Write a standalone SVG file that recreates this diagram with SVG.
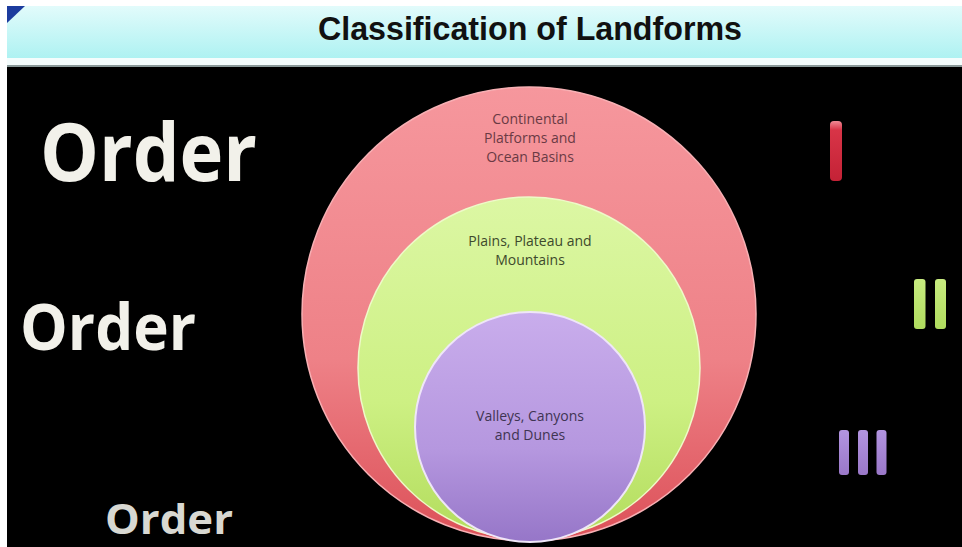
<svg xmlns="http://www.w3.org/2000/svg" width="962" height="547" viewBox="0 0 962 547">
<defs>
<linearGradient id="hdr" x1="0" y1="0" x2="0" y2="1">
<stop offset="0" stop-color="#e2fbfb"/>
<stop offset="1" stop-color="#aef2f2"/>
</linearGradient>
<linearGradient id="gRed" x1="0" y1="0" x2="0" y2="1">
<stop offset="0" stop-color="#f6979d"/>
<stop offset="0.6" stop-color="#ee8187"/>
<stop offset="1" stop-color="#dc5058"/>
</linearGradient>
<linearGradient id="gGreen" x1="0" y1="0" x2="0" y2="1">
<stop offset="0" stop-color="#dcf7a4"/>
<stop offset="0.6" stop-color="#cdf083"/>
<stop offset="1" stop-color="#b2dc5c"/>
</linearGradient>
<linearGradient id="gPurple" x1="0" y1="0" x2="0" y2="1">
<stop offset="0" stop-color="#c9adec"/>
<stop offset="0.6" stop-color="#b597df"/>
<stop offset="1" stop-color="#9676c8"/>
</linearGradient>
<linearGradient id="barR" x1="0" y1="0" x2="0" y2="1">
<stop offset="0" stop-color="#f08a95"/>
<stop offset="0.15" stop-color="#d83447"/>
<stop offset="1" stop-color="#c42236"/>
</linearGradient>
<linearGradient id="barG" x1="0" y1="0" x2="0" y2="1">
<stop offset="0" stop-color="#c8ec80"/>
<stop offset="1" stop-color="#b0dc5e"/>
</linearGradient>
<linearGradient id="barP" x1="0" y1="0" x2="0" y2="1">
<stop offset="0" stop-color="#b294e0"/>
<stop offset="1" stop-color="#9a78c8"/>
</linearGradient>
</defs>
<style>
.order{font-family:"Open Sans","Liberation Sans",sans-serif;font-weight:bold;fill:#f2f1ea}
.lbl{font-family:"Open Sans","Liberation Sans",sans-serif;font-size:14px;text-anchor:middle}
.title{font-family:"Liberation Sans Narrow","Liberation Sans",sans-serif;font-weight:bold;font-size:34px;fill:#111;text-anchor:middle}
</style>
<rect x="0" y="0" width="962" height="547" fill="#ffffff"/>
<rect x="7" y="6" width="955" height="541" fill="#000000"/>
<g id="header">
<rect x="7" y="6" width="955" height="52" fill="url(#hdr)"/>
<rect x="7" y="58" width="955" height="7" fill="#f4fdfd"/>
<rect x="7" y="65" width="955" height="2" fill="#8a9a9a"/>
<polygon points="7,6 25,6 7,23" fill="#1c3c9e"/>
<text class="title" x="530" y="40" textLength="424" lengthAdjust="spacingAndGlyphs">Classification of Landforms</text>
</g>
<g id="order1"><text class="order" x="40" y="181" font-size="80" textLength="217" lengthAdjust="spacingAndGlyphs">Order</text></g>
<g id="order2"><text class="order" x="20" y="350" font-size="65" textLength="176" lengthAdjust="spacingAndGlyphs">Order</text></g>
<g id="order3"><text class="order" x="105" y="534" font-size="42" style="fill:#d8d8d2" textLength="128" lengthAdjust="spacingAndGlyphs">Order</text></g>
<g id="circle-continental">
<circle cx="529" cy="314" r="227" fill="url(#gRed)" stroke="#f7b0b4" stroke-width="1.5"/>
<text class="lbl" fill="#6a3a44"><tspan x="530" y="124">Continental</tspan><tspan x="530" y="143">Platforms and</tspan><tspan x="530" y="162">Ocean Basins</tspan></text>
</g>
<g id="circle-plains">
<circle cx="529" cy="368" r="171" fill="url(#gGreen)" stroke="#eefac8" stroke-width="1.5"/>
<text class="lbl" fill="#3e4a2c"><tspan x="530" y="246">Plains, Plateau and</tspan><tspan x="530" y="265">Mountains</tspan></text>
</g>
<g id="circle-valleys">
<circle cx="530" cy="427" r="115" fill="url(#gPurple)" stroke="#efe6f8" stroke-width="2"/>
<text class="lbl" fill="#3f3452"><tspan x="530" y="421">Valleys, Canyons</tspan><tspan x="530" y="440">and Dunes</tspan></text>
</g>
<g id="numeral-I"><rect x="830" y="121" width="12" height="60" rx="4" fill="url(#barR)"/></g>
<g id="numeral-II">
<rect x="914" y="279" width="11.5" height="50" rx="3" fill="url(#barG)"/>
<rect x="935" y="279" width="11" height="50" rx="3" fill="url(#barG)"/>
</g>
<g id="numeral-III">
<rect x="839" y="430" width="10" height="45" rx="3" fill="url(#barP)"/>
<rect x="858" y="430" width="10" height="45" rx="3" fill="url(#barP)"/>
<rect x="876.5" y="430" width="10" height="45" rx="3" fill="url(#barP)"/>
</g>
<g id="connectors"/>
</svg>
